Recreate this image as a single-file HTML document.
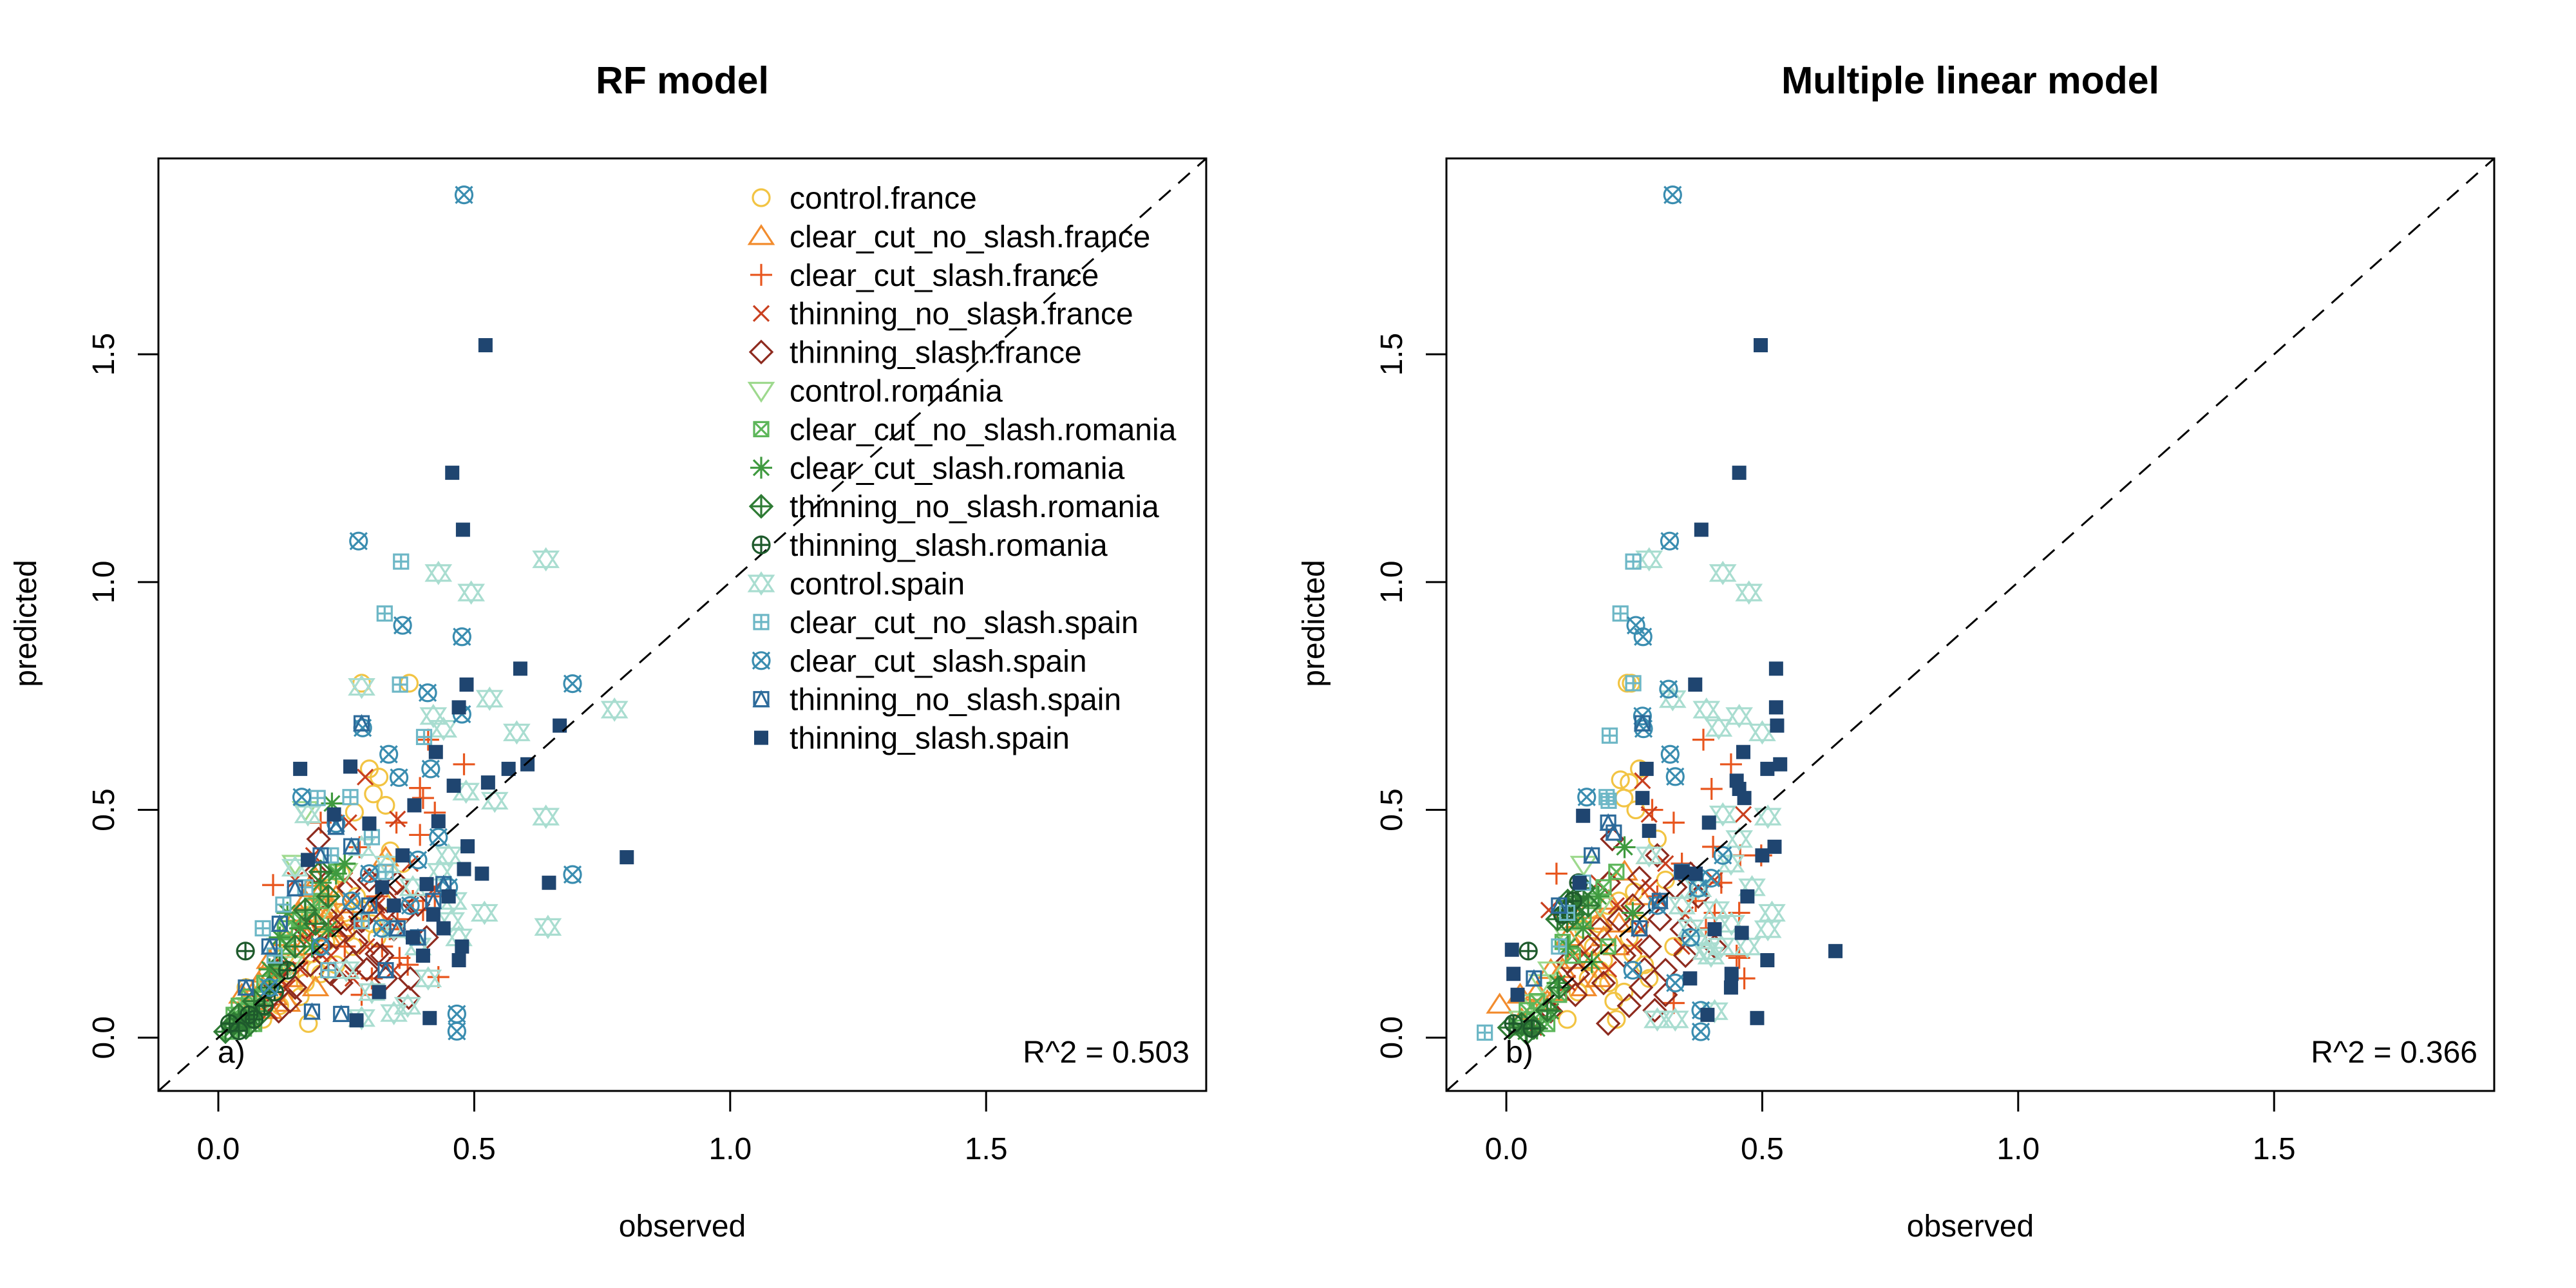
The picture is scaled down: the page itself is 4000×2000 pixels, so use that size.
<!DOCTYPE html>
<html><head><meta charset="utf-8">
<style>
html,body{margin:0;padding:0;background:#fff;}
svg{display:block;font-family:"Liberation Sans",Arial,sans-serif;}
</style></head>
<body>
<svg id="chart" width="4000" height="2000" viewBox="0 0 4000 2000" xmlns="http://www.w3.org/2000/svg"></svg>
<script>
// ===== data =====
const seriesNames = ["control.france","clear_cut_no_slash.france","clear_cut_slash.france","thinning_no_slash.france","thinning_slash.france","control.romania","clear_cut_no_slash.romania","clear_cut_slash.romania","thinning_no_slash.romania","thinning_slash.romania","control.spain","clear_cut_no_slash.spain","clear_cut_slash.spain","thinning_no_slash.spain","thinning_slash.spain"];
const seriesColors = ["#F2C443","#F28C2E","#E8561E","#C9401F","#8E2B1F","#9ED98E","#5DB65A","#3F9A3F","#2E7B34","#1E5A2C","#A9DDD0","#6DB7C6","#3A8DB0","#2C6A9A","#1F4570"];
const seriesPch = [1,2,3,4,5,6,7,8,9,10,11,12,13,14,15];
const axisTicks = [0.0,0.5,1.0,1.5];
const tickLabels = ["0.0","0.5","1.0","1.5"];
const panelTitles = ["RF model","Multiple linear model"];
const panelTags = ["a)","b)"];
const panelR2 = ["R^2 = 0.503","R^2 = 0.366"];

const rfControlFrance = [[0.28,0.778],[0.373,0.778],[0.295,0.59],[0.314,0.572],[0.327,0.51],[0.266,0.495],[0.303,0.535],[0.336,0.41],[0.36,0.382],[0.215,0.29],[0.247,0.274],[0.183,0.184],[0.118,0.148],[0.087,0.04],[0.176,0.031],[0.2,0.14],[0.054,0.11],[0.15,0.238],[0.263,0.2],[0.31,0.22],[0.17,0.12],[0.19,0.15],[0.3,0.25],[0.13,0.18],[0.24,0.36],[0.22,0.33],[0.27,0.31],[0.25,0.23],[0.21,0.21],[0.16,0.09],[0.12,0.07],[0.09,0.1],[0.28,0.28],[0.32,0.3],[0.2,0.25],[0.14,0.14],[0.23,0.16],[0.18,0.27]];
const rfCcNoSlashFrance = [[0.327,0.395],[0.183,0.328],[0.2,0.283],[0.23,0.31],[0.054,0.04],[0.046,0.094],[0.087,0.11],[0.118,0.157],[0.167,0.2],[0.215,0.22],[0.135,0.076],[0.263,0.292],[0.303,0.274],[0.158,0.274],[0.19,0.11],[0.1,0.06],[0.07,0.08],[0.14,0.13],[0.21,0.26],[0.24,0.24],[0.17,0.3],[0.19,0.35],[0.2,0.32],[0.15,0.18],[0.12,0.2],[0.08,0.12],[0.06,0.06],[0.11,0.09],[0.16,0.24],[0.22,0.28],[0.13,0.22],[0.09,0.14],[0.05,0.07],[0.18,0.23],[0.1,0.17]];
const rfCcSlashFrance = [[0.48,0.6],[0.41,0.654],[0.394,0.548],[0.4,0.526],[0.423,0.494],[0.394,0.445],[0.348,0.472],[0.107,0.335],[0.276,0.418],[0.423,0.31],[0.43,0.133],[0.354,0.175],[0.335,0.238],[0.2,0.472],[0.31,0.31],[0.247,0.2],[0.28,0.094],[0.38,0.3],[0.35,0.26],[0.4,0.28],[0.32,0.2],[0.37,0.16],[0.3,0.13]];
const rfThinNoSlashFrance = [[0.287,0.572],[0.255,0.472],[0.186,0.4],[0.15,0.346],[0.35,0.48],[0.375,0.382],[0.423,0.328],[0.31,0.29],[0.23,0.238],[0.2,0.184],[0.1,0.058],[0.135,0.11],[0.263,0.13],[0.343,0.148],[0.247,0.346],[0.16,0.15],[0.29,0.2],[0.33,0.26],[0.36,0.33],[0.27,0.25],[0.22,0.18],[0.12,0.13],[0.26,0.3],[0.3,0.35],[0.18,0.22]];
const rfThinSlashFrance = [[0.196,0.436],[0.19,0.364],[0.256,0.328],[0.343,0.238],[0.375,0.13],[0.372,0.088],[0.327,0.13],[0.31,0.184],[0.28,0.256],[0.23,0.22],[0.15,0.11],[0.118,0.058],[0.263,0.166],[0.39,0.292],[0.407,0.22],[0.215,0.31],[0.087,0.094],[0.295,0.346],[0.18,0.16],[0.24,0.12],[0.33,0.3],[0.12,0.15],[0.27,0.21],[0.3,0.28],[0.36,0.27],[0.2,0.2],[0.25,0.26],[0.14,0.08],[0.22,0.14],[0.29,0.15],[0.32,0.18],[0.35,0.34],[0.17,0.24],[0.21,0.27]];
const rfControlRomania = [[0.15,0.382],[0.17,0.5],[0.054,0.04],[0.1,0.11],[0.2,0.274],[0.247,0.364],[0.038,0.022],[0.06,0.07],[0.12,0.2],[0.08,0.06],[0.14,0.16]];
const rfCcNoSlashRomania = [[0.038,0.031],[0.054,0.058],[0.087,0.085],[0.135,0.2],[0.183,0.29],[0.23,0.364],[0.022,0.013],[0.03,0.05],[0.07,0.03],[0.11,0.14],[0.05,0.02],[0.09,0.12],[0.16,0.26],[0.2,0.3],[0.04,0.07],[0.13,0.24],[0.06,0.09]];
const rfCcSlashRomania = [[0.222,0.514],[0.247,0.382],[0.135,0.274],[0.03,0.022],[0.07,0.058],[0.183,0.2],[0.215,0.238],[0.045,0.04],[0.16,0.24],[0.2,0.34],[0.23,0.36],[0.1,0.15],[0.06,0.03],[0.12,0.22]];
const rfThinNoSlashRomania = [[0.054,0.022],[0.014,0.013],[0.1,0.11],[0.15,0.2],[0.215,0.31],[0.2,0.364],[0.04,0.05],[0.12,0.16],[0.07,0.08],[0.03,0.03],[0.08,0.05],[0.17,0.28],[0.19,0.25],[0.05,0.04]];
const rfThinSlashRomania = [[0.053,0.19],[0.022,0.031],[0.07,0.04],[0.135,0.148],[0.04,0.015],[0.09,0.07],[0.06,0.05],[0.11,0.1]];
const rfControlSpain = [[0.64,1.05],[0.43,1.02],[0.494,0.977],[0.774,0.72],[0.53,0.744],[0.583,0.67],[0.42,0.706],[0.44,0.678],[0.484,0.54],[0.54,0.52],[0.64,0.485],[0.52,0.274],[0.644,0.243],[0.434,0.364],[0.455,0.256],[0.28,0.043],[0.343,0.054],[0.175,0.49],[0.15,0.373],[0.28,0.418],[0.343,0.238],[0.39,0.2],[0.25,0.148],[0.28,0.77],[0.46,0.3],[0.47,0.22],[0.41,0.13],[0.37,0.07],[0.3,0.1],[0.45,0.4],[0.38,0.33],[0.33,0.38]];
const rfCcNoSlashSpain = [[0.357,1.045],[0.325,0.931],[0.355,0.775],[0.402,0.66],[0.258,0.528],[0.194,0.526],[0.127,0.292],[0.087,0.24],[0.327,0.364],[0.215,0.148],[0.28,0.256],[0.17,0.33],[0.22,0.4],[0.3,0.44],[0.11,0.18]];
const rfCcSlashSpain = [[0.48,1.85],[0.274,1.09],[0.36,0.905],[0.476,0.88],[0.409,0.757],[0.692,0.777],[0.282,0.68],[0.333,0.622],[0.353,0.571],[0.415,0.59],[0.163,0.528],[0.692,0.358],[0.466,0.052],[0.466,0.014],[0.476,0.71],[0.23,0.47],[0.295,0.36],[0.375,0.29],[0.2,0.2],[0.1,0.11],[0.43,0.44],[0.45,0.33],[0.32,0.24],[0.26,0.3],[0.39,0.39]];
const rfThinNoSlashSpain = [[0.28,0.69],[0.23,0.463],[0.44,0.337],[0.054,0.11],[0.183,0.057],[0.24,0.052],[0.327,0.148],[0.15,0.328],[0.39,0.22],[0.1,0.2],[0.295,0.29],[0.2,0.4],[0.26,0.42],[0.35,0.24],[0.12,0.25],[0.42,0.3]];
const rfThinSlashSpain = [[0.522,1.52],[0.457,1.24],[0.478,1.115],[0.59,0.81],[0.485,0.775],[0.47,0.725],[0.667,0.685],[0.604,0.6],[0.567,0.59],[0.527,0.56],[0.46,0.553],[0.425,0.627],[0.16,0.59],[0.258,0.595],[0.798,0.396],[0.646,0.34],[0.515,0.36],[0.487,0.42],[0.48,0.37],[0.43,0.475],[0.4,0.18],[0.476,0.2],[0.47,0.17],[0.413,0.043],[0.27,0.038],[0.314,0.1],[0.226,0.49],[0.175,0.39],[0.295,0.47],[0.383,0.51],[0.407,0.337],[0.343,0.29],[0.44,0.24],[0.36,0.4],[0.42,0.27],[0.45,0.31],[0.32,0.33],[0.38,0.22]];

const lmControlFrance = [[0.236,0.778],[0.244,0.778],[0.26,0.59],[0.223,0.566],[0.24,0.56],[0.23,0.526],[0.253,0.5],[0.295,0.436],[0.311,0.346],[0.199,0.29],[0.151,0.238],[0.247,0.184],[0.279,0.13],[0.215,0.04],[0.119,0.04],[0.183,0.148],[0.327,0.2],[0.17,0.2],[0.2,0.12],[0.26,0.25],[0.14,0.1],[0.22,0.3],[0.24,0.22],[0.19,0.17],[0.27,0.16],[0.16,0.13],[0.21,0.08],[0.25,0.32],[0.18,0.25],[0.23,0.1]];
const lmCcNoSlashFrance = [[-0.013,0.072],[0.027,0.094],[0.054,0.058],[0.087,0.148],[0.135,0.2],[0.183,0.256],[0.231,0.364],[0.279,0.4],[0.215,0.2],[0.151,0.11],[0.263,0.31],[0.03,0.04],[0.1,0.1],[0.17,0.17],[0.12,0.22],[0.2,0.3],[0.14,0.26],[0.16,0.28],[0.19,0.22],[0.11,0.15],[0.08,0.08],[0.06,0.1],[0.22,0.25],[0.13,0.17],[0.18,0.13]];
const lmCcSlashFrance = [[0.385,0.654],[0.439,0.6],[0.401,0.546],[0.285,0.5],[0.098,0.36],[0.327,0.472],[0.404,0.419],[0.457,0.4],[0.498,0.4],[0.407,0.274],[0.455,0.274],[0.455,0.175],[0.465,0.13],[0.343,0.382],[0.295,0.31],[0.327,0.076],[0.37,0.3],[0.42,0.34],[0.45,0.18],[0.39,0.24]];
const lmThinNoSlashFrance = [[0.266,0.564],[0.083,0.28],[0.279,0.49],[0.463,0.49],[0.407,0.346],[0.311,0.382],[0.215,0.29],[0.151,0.184],[0.054,0.022],[0.343,0.2],[0.263,0.238],[0.18,0.34],[0.12,0.12],[0.3,0.3],[0.25,0.2],[0.2,0.15],[0.35,0.27],[0.28,0.33]];
const lmThinSlashFrance = [[0.207,0.436],[0.295,0.4],[0.375,0.31],[0.343,0.238],[0.311,0.148],[0.263,0.11],[0.199,0.031],[0.135,0.094],[0.119,0.166],[0.183,0.238],[0.247,0.29],[0.311,0.094],[0.087,0.058],[0.407,0.2],[0.23,0.18],[0.16,0.2],[0.28,0.2],[0.2,0.34],[0.26,0.35],[0.3,0.26],[0.33,0.33],[0.22,0.26],[0.27,0.15],[0.35,0.18],[0.19,0.12],[0.24,0.07],[0.14,0.14],[0.36,0.36],[0.29,0.06]];
const lmControlRomania = [[0.151,0.38],[0.054,0.076],[0.087,0.148],[0.183,0.29],[0.03,0.04],[0.12,0.22],[0.07,0.12]];
const lmCcNoSlashRomania = [[0.022,0.022],[0.054,0.04],[0.103,0.094],[0.151,0.256],[0.215,0.364],[0.199,0.2],[0.08,0.03],[0.04,0.06],[0.13,0.18],[0.17,0.3],[0.11,0.21],[0.06,0.08],[0.19,0.33]];
const lmCcSlashRomania = [[0.231,0.418],[0.038,0.013],[0.087,0.058],[0.167,0.166],[0.247,0.274],[0.06,0.02],[0.12,0.2],[0.15,0.24],[0.1,0.12],[0.18,0.31]];
const lmThinNoSlashRomania = [[0.135,0.29],[0.119,0.256],[0.151,0.328],[0.054,0.022],[0.006,0.022],[0.103,0.11],[0.13,0.27],[0.03,0.03],[0.14,0.31],[0.12,0.3],[0.1,0.26],[0.16,0.29],[0.08,0.06],[0.04,0.01]];
const lmThinSlashRomania = [[0.043,0.19],[0.141,0.34],[0.014,0.031],[0.12,0.28],[0.13,0.3],[0.11,0.27],[0.05,0.02]];
const lmControlSpain = [[0.279,1.05],[0.423,1.02],[0.474,0.977],[0.325,0.743],[0.391,0.72],[0.455,0.706],[0.5,0.67],[0.415,0.68],[0.511,0.485],[0.455,0.436],[0.519,0.274],[0.511,0.238],[0.423,0.49],[0.439,0.382],[0.375,0.22],[0.295,0.04],[0.407,0.058],[0.471,0.2],[0.343,0.29],[0.279,0.4],[0.375,0.328],[0.42,0.2],[0.39,0.19],[0.41,0.28],[0.44,0.25],[0.36,0.24],[0.4,0.18],[0.48,0.33],[0.33,0.04]];
const lmCcNoSlashSpain = [[0.248,1.045],[0.223,0.931],[0.248,0.778],[0.202,0.663],[0.196,0.528],[-0.042,0.011],[0.119,0.274],[0.103,0.2],[0.2,0.52],[0.15,0.34]];
const lmCcSlashSpain = [[0.325,1.85],[0.319,1.09],[0.253,0.905],[0.267,0.88],[0.317,0.765],[0.266,0.706],[0.268,0.678],[0.32,0.622],[0.33,0.573],[0.157,0.528],[0.38,0.013],[0.375,0.328],[0.295,0.29],[0.247,0.148],[0.423,0.4],[0.36,0.22],[0.33,0.12],[0.38,0.06],[0.4,0.35]];
const lmThinNoSlashSpain = [[0.266,0.69],[0.199,0.472],[0.103,0.29],[0.167,0.4],[0.343,0.364],[0.054,0.13],[0.21,0.45],[0.3,0.3],[0.26,0.24]];
const lmThinSlashSpain = [[0.497,1.52],[0.455,1.24],[0.381,1.115],[0.527,0.81],[0.527,0.725],[0.529,0.685],[0.535,0.6],[0.51,0.59],[0.463,0.627],[0.45,0.564],[0.455,0.546],[0.465,0.526],[0.274,0.59],[0.15,0.487],[0.266,0.526],[0.369,0.775],[0.396,0.472],[0.643,0.19],[0.51,0.17],[0.49,0.043],[0.393,0.05],[0.524,0.419],[0.471,0.31],[0.407,0.238],[0.359,0.13],[0.011,0.193],[0.014,0.14],[0.022,0.094],[0.143,0.34],[0.439,0.11],[0.279,0.454],[0.343,0.364],[0.46,0.23],[0.5,0.4],[0.44,0.14],[0.37,0.36]];

const rfSeries = [rfControlFrance,rfCcNoSlashFrance,rfCcSlashFrance,rfThinNoSlashFrance,rfThinSlashFrance,rfControlRomania,rfCcNoSlashRomania,rfCcSlashRomania,rfThinNoSlashRomania,rfThinSlashRomania,rfControlSpain,rfCcNoSlashSpain,rfCcSlashSpain,rfThinNoSlashSpain,rfThinSlashSpain];
const lmSeries = [lmControlFrance,lmCcNoSlashFrance,lmCcSlashFrance,lmThinNoSlashFrance,lmThinSlashFrance,lmControlRomania,lmCcNoSlashRomania,lmCcSlashRomania,lmThinNoSlashRomania,lmThinSlashRomania,lmControlSpain,lmCcNoSlashSpain,lmCcSlashSpain,lmThinNoSlashSpain,lmThinSlashSpain];

// ===== rendering =====
const NS = "http://www.w3.org/2000/svg";
const svg = document.getElementById("chart");
const LIM = [-0.117, 1.93];
const BOX = {l:246, r:1873, t:246, b:1694};
function mk(tag, attrs, parent){
  const e = document.createElementNS(NS, tag);
  for (const k in attrs) e.setAttribute(k, attrs[k]);
  (parent||svg).appendChild(e);
  return e;
}
function sx(off, v){ return off + BOX.l + (v-LIM[0])/(LIM[1]-LIM[0])*(BOX.r-BOX.l); }
function sy(v){ return BOX.b - (v-LIM[0])/(LIM[1]-LIM[0])*(BOX.b-BOX.t); }

function symbol(g, pch, x, y, col){
  const sw = 3.2, r = 13;
  const st = {fill:"none", stroke:col, "stroke-width":sw};
  const line = (x1,y1,x2,y2)=>mk("line",Object.assign({x1:x1,y1:y1,x2:x2,y2:y2},st),g);
  const sq = (h)=>mk("rect",Object.assign({x:x-h,y:y-h,width:2*h,height:2*h},st),g);
  const tri = (up,h)=>{const w=h*1.15, d=up?1:-1;
    mk("polygon",Object.assign({points:`${x},${y-d*h} ${x-w},${y+d*h*0.75} ${x+w},${y+d*h*0.75}`},st),g);};
  switch(pch){
    case 1: mk("circle",Object.assign({cx:x,cy:y,r:r},st),g); break;
    case 2: tri(true,16); break;
    case 3: line(x-17,y,x+17,y); line(x,y-17,x,y+17); break;
    case 4: line(x-12,y-12,x+12,y+12); line(x-12,y+12,x+12,y-12); break;
    case 5: mk("polygon",Object.assign({points:`${x},${y-17} ${x+17},${y} ${x},${y+17} ${x-17},${y}`},st),g); break;
    case 6: tri(false,16); break;
    case 7: sq(11); line(x-11,y-11,x+11,y+11); line(x-11,y+11,x+11,y-11); break;
    case 8: line(x-17,y,x+17,y); line(x,y-17,x,y+17); line(x-12,y-12,x+12,y+12); line(x-12,y+12,x+12,y-12); break;
    case 9: mk("polygon",Object.assign({points:`${x},${y-17} ${x+17},${y} ${x},${y+17} ${x-17},${y}`},st),g); line(x-17,y,x+17,y); line(x,y-17,x,y+17); break;
    case 10: mk("circle",Object.assign({cx:x,cy:y,r:r},st),g); line(x-r,y,x+r,y); line(x,y-r,x,y+r); break;
    case 11: tri(true,16); tri(false,16); break;
    case 12: sq(11); line(x-11,y,x+11,y); line(x,y-11,x,y+11); break;
    case 13: mk("circle",Object.assign({cx:x,cy:y,r:r},st),g); line(x-13,y-13,x+13,y+13); line(x-13,y+13,x+13,y-13); break;
    case 14: sq(11); mk("polygon",Object.assign({points:`${x},${y-11} ${x-11},${y+11} ${x+11},${y+11}`},st),g); break;
    case 15: mk("rect",{x:x-11,y:y-11,width:22,height:22,fill:col},g); break;
  }
}

function drawPanel(p, off, seriesList){
  const g = mk("g",{});
  
  
  const cx = off + (BOX.l+BOX.r)/2;
  const t = mk("text",{x:cx,y:145,"text-anchor":"middle","font-size":59,"font-weight":"bold",fill:"#000"},g);
  t.textContent = panelTitles[p];
  
  
  const pg = mk("g",{},g);
  
  
  seriesList.forEach((pts, si)=>{
    const sg = mk("g",{},pg);
    
    
    pts.forEach(pt=>symbol(sg, seriesPch[si], sx(off,pt[0]), sy(pt[1]), seriesColors[si]));
  });
  const dl = mk("line",{x1:sx(off,LIM[0]),y1:sy(LIM[0]),x2:sx(off,LIM[1]),y2:sy(LIM[1]),stroke:"#000","stroke-width":3,"stroke-dasharray":"24 16"},g);
  
  
  const bx = mk("rect",{x:off+BOX.l,y:BOX.t,width:BOX.r-BOX.l,height:BOX.b-BOX.t,fill:"none",stroke:"#000","stroke-width":3},g);
  
  
  axisTicks.forEach((v,i)=>{
    const X = sx(off,v), Y = sy(v);
    mk("line",{x1:X,y1:BOX.b,x2:X,y2:BOX.b+32,stroke:"#000","stroke-width":3},g);
    const tx = mk("text",{x:X,y:1800,"text-anchor":"middle","font-size":48,fill:"#000"},g);
    tx.textContent = tickLabels[i];
    
    
    mk("line",{x1:off+BOX.l,y1:Y,x2:off+BOX.l-32,y2:Y,stroke:"#000","stroke-width":3},g);
    const ty = mk("text",{x:off+177,y:Y,"text-anchor":"middle","font-size":48,fill:"#000",transform:`rotate(-90 ${off+177} ${Y})`},g);
    ty.textContent = tickLabels[i];
    
    
  });
  const xl = mk("text",{x:cx,y:1920,"text-anchor":"middle","font-size":48,fill:"#000"},g);
  xl.textContent = "observed";
  
  
  const yl = mk("text",{x:off+56,y:968,"text-anchor":"middle","font-size":48,fill:"#000",transform:`rotate(-90 ${off+56} 968)`},g);
  yl.textContent = "predicted";
  
  
  const tag = mk("text",{x:off+338,y:1650,"font-size":48,fill:"#000"},g);
  tag.textContent = panelTags[p];
  
  
  const r2 = mk("text",{x:off+1847,y:1650,"text-anchor":"end","font-size":48,fill:"#000"},g);
  r2.textContent = panelR2[p];
  
  
}

drawPanel(0, 0, rfSeries);
drawPanel(1, 2000, lmSeries);

const lg = mk("g",{});


seriesNames.forEach((nm,i)=>{
  const y = 307 + i*59.9;
  const eg = mk("g",{},lg);
  
  
  symbol(eg, seriesPch[i], 1182, y, seriesColors[i]);
  const tx = mk("text",{x:1226,y:y+17,"font-size":48,fill:"#000"},eg);
  tx.textContent = nm;
});
</script>
</body></html>
